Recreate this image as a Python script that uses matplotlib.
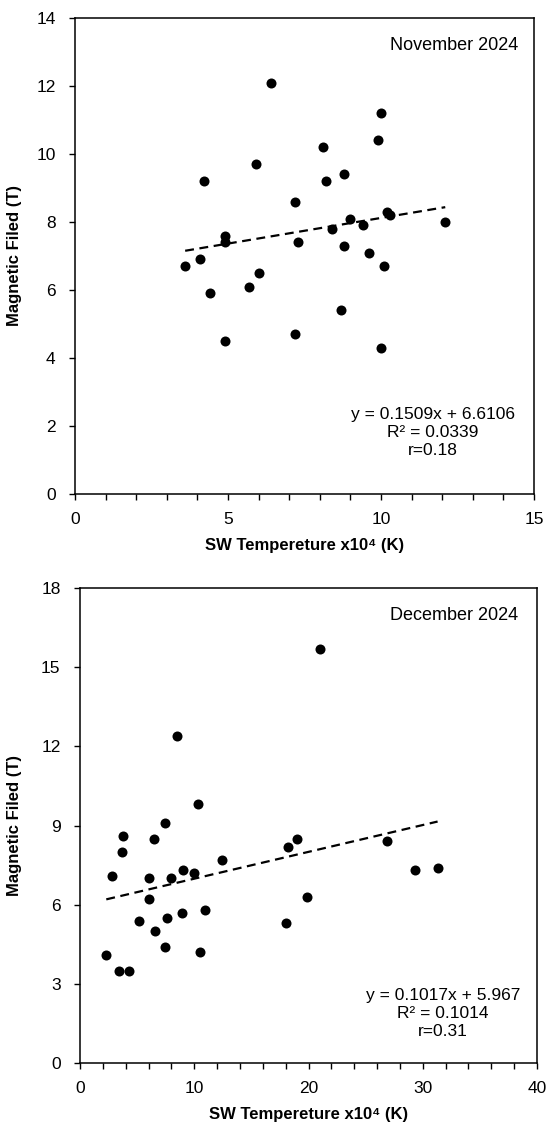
import numpy as np
import matplotlib.pyplot as plt
from matplotlib.ticker import MultipleLocator

plt.rcParams['font.family'] = ['Liberation Sans', 'DejaVu Sans']

# November 2024
nov_temp = [6.4, 5.9, 4.2, 7.2, 4.9, 4.9, 3.6, 4.1, 6.0, 5.7, 4.4, 4.9, 7.2,
            10.0, 9.9, 8.1, 8.8, 8.2, 7.3, 8.4, 9.0, 9.4, 8.8, 9.6, 10.1,
            10.2, 10.3, 12.1, 8.7, 10.0]
nov_field = [12.1, 9.7, 9.2, 8.6, 7.6, 7.4, 6.7, 6.9, 6.5, 6.1, 5.9, 4.5, 4.7,
             11.2, 10.4, 10.2, 9.4, 9.2, 7.4, 7.8, 8.1, 7.9, 7.3, 7.1, 6.7,
             8.3, 8.2, 8.0, 5.4, 4.3]
nov_fit = (0.1509, 6.6106)
nov_eq = "y = 0.1509x + 6.6106\nR² = 0.0339\nr=0.18"

# December 2024
dec_temp = [10.3, 7.4, 3.8, 6.5, 3.7, 2.8, 6.0, 8.0, 9.0, 10.0, 12.4, 6.0,
            5.2, 7.6, 8.9, 10.9, 6.6, 7.4, 10.5, 2.3, 3.4, 4.3, 18.2, 19.0,
            18.0, 19.9, 26.9, 29.3, 31.3, 8.5, 21.0]
dec_field = [9.8, 9.1, 8.6, 8.5, 8.0, 7.1, 7.0, 7.0, 7.3, 7.2, 7.7, 6.2,
             5.4, 5.5, 5.7, 5.8, 5.0, 4.4, 4.2, 4.1, 3.5, 3.5, 8.2, 8.5,
             5.3, 6.3, 8.4, 7.3, 7.4, 12.4, 15.7]
dec_fit = (0.1017, 5.967)
dec_eq = "y = 0.1017x + 5.967\nR² = 0.1014\nr=0.31"

W, H = 547, 1136
fig = plt.figure(figsize=(W / 100, H / 100), dpi=100)
ax1 = fig.add_axes([75 / W, 1 - 494 / H, 459 / W, 476 / H])
ax2 = fig.add_axes([80 / W, 1 - 1063 / H, 457 / W, 475 / H])

panels = [
    (ax1, nov_temp, nov_field, nov_fit, nov_eq, "November 2024", 15, 14, 5, 1, 2, 0.78, 0.075, 0.965, -0.115),
    (ax2, dec_temp, dec_field, dec_fit, dec_eq, "December 2024", 40, 18, 10, 2, 3, 0.794, 0.05, 0.958, -0.127),
]

for ax, x, y, fit, eq, title, xmax, ymax, xmaj, xmin, ymaj, ex, ey, tx, ylx in panels:
    ax.scatter(x, y, s=52, color='black', zorder=3, linewidths=0)
    xs = np.array([min(x), max(x)])
    ax.plot(xs, fit[0] * xs + fit[1], color='black', lw=1.6, dashes=(4, 2.5))
    ax.set_xlim(0, xmax)
    ax.set_ylim(0, ymax)
    ax.xaxis.set_major_locator(MultipleLocator(xmaj))
    ax.xaxis.set_minor_locator(MultipleLocator(xmin))
    ax.yaxis.set_major_locator(MultipleLocator(ymaj))
    ax.tick_params(which='both', direction='out', length=4, width=1, labelsize=12.5)
    ax.tick_params(axis='x', pad=9)
    ax.tick_params(axis='y', pad=10)
    for sp in ax.spines.values():
        sp.set_linewidth(1.1)
    ax.set_ylabel("Magnetic Filed (T)", fontsize=12, fontweight='bold')
    ax.yaxis.set_label_coords(ylx, 0.5)
    ax.set_xlabel("SW Tempereture x10⁴ (K)", fontsize=12, fontweight='bold', labelpad=8)
    ax.text(tx, 0.943, title, transform=ax.transAxes, ha='right', va='center', fontsize=13)
    ax.text(ex, ey, eq, transform=ax.transAxes, ha='center', va='bottom',
            multialignment='center', fontsize=12.5, linespacing=1.25)

fig.savefig("out.png", dpi=100)
